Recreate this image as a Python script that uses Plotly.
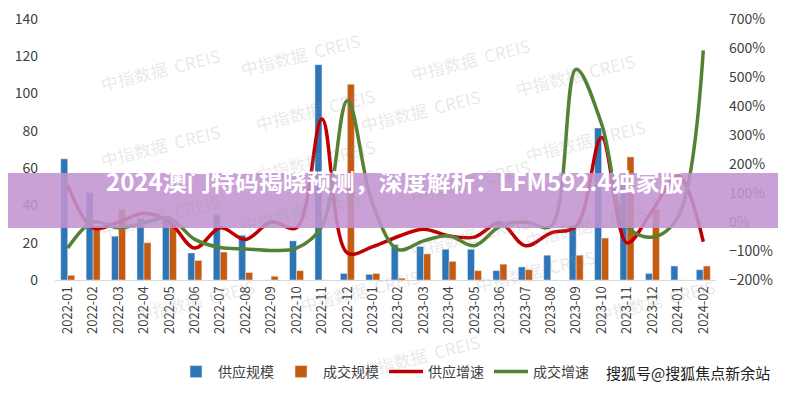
import plotly.graph_objects as go

# Monthly supply / transaction scale and growth
months = ["2022-01", "2022-02", "2022-03", "2022-04", "2022-05", "2022-06", "2022-07",
          "2022-08", "2022-09", "2022-10", "2022-11", "2022-12", "2023-01", "2023-02",
          "2023-03", "2023-04", "2023-05", "2023-06", "2023-07", "2023-08", "2023-09",
          "2023-10", "2023-11", "2023-12", "2024-01", "2024-02"]
supply = [65, 47, 23.5, 33, 34, 14.5, 35, 24, 0, 21, 115.5, 3.5, 3, 19,
          18, 16.5, 16.5, 5, 7, 13.3, 29, 81.5, 51.7, 3.5, 7.5, 5.5]
deals = [2.5, 29, 38, 20, 30, 10.5, 15, 4, 2, 5, 0, 105, 3.5, 1,
         14, 10, 5, 8.5, 5.5, 0, 13.3, 22.5, 66, 38, 0, 7.5]
supply_growth = [127, -20, 0, 30, 0, -90, -20, -60, 0, -20, 355, -107, -85, -50,
                 -25, -48, -52, -3, -82, -38, -15, 291, -72, 40, 160, -68]
deal_growth = [-90, 0, -20, -3, 13, -60, -88, -93, -98, -90, -15, 418, 60, -95,
               -65, -48, -82, -15, 0, -15, 527, 338, -15, -52, 18, 592]

font = "Noto Sans CJK SC"

# target plot area in page pixels: x 55..716, y 19..280
# (the page body adds ~8px, so margins are shifted back by that)
PX0, PX1, PY0, PY1 = 55, 716, 19, 280
OFF = 8

def px(pix):
    return (pix - PX0) / (PX1 - PX0)

def py(pix):
    return (PY1 - pix) / (PY1 - PY0)

fig = go.Figure()
fig.add_trace(go.Bar(x=months, y=supply, name="供应规模", marker_color="#2E75B6"))
fig.add_trace(go.Bar(x=months, y=deals, name="成交规模", marker_color="#C55A11"))
fig.add_trace(go.Scatter(x=months, y=supply_growth, name="供应增速", yaxis="y2",
                         mode="lines", line=dict(color="#C00000", width=3.5,
                                                 shape="spline", smoothing=1.0)))
fig.add_trace(go.Scatter(x=months, y=deal_growth, name="成交增速", yaxis="y2",
                         mode="lines", line=dict(color="#548235", width=3.5,
                                                 shape="spline", smoothing=1.0)))

# faint watermarks (pixel centres)
marks = [(95, 40), (300, 25), (470, 30), (640, 45), (250, 80), (95, 145), (420, 110),
         (650, 140), (250, 160), (470, 180), (95, 245), (300, 240), (470, 265),
         (650, 255), (130, 330), (360, 320), (600, 300), (720, 330), (420, 385)]
annotations = []
for mx, my in marks:
    annotations.append(dict(x=px(mx), y=py(my), xref="paper", yref="paper",
                            text="中指数据  CREIS", showarrow=False, textangle=-14,
                            font=dict(family=font, size=17, color="rgba(150,150,150,0.22)")))

# banner
fig.add_shape(type="rect", xref="paper", yref="paper", x0=px(-20), x1=px(810),
              y0=py(228), y1=py(173), fillcolor="rgba(193,148,208,0.88)",
              line_width=0, layer="above")
annotations.append(dict(x=px(394), y=py(200), xref="paper", yref="paper",
                        text="<b>2024澳门特码揭晓预测，深度解析：LFM592.4独家版</b>",
                        showarrow=False, font=dict(family=font, size=24, color="white")))
annotations.append(dict(x=px(772), y=py(385), xref="paper", yref="paper",
                        xanchor="right", text="搜狐号@搜狐焦点新余站", showarrow=False,
                        font=dict(family=font, size=15, color="#222222")))

fig.update_layout(
    width=786, height=400,
    margin=dict(l=PX0 - OFF, r=786 - PX1 + OFF, t=PY0 - OFF, b=400 - PY1 + OFF),
    paper_bgcolor="white", plot_bgcolor="white",
    font=dict(family=font, size=12, color="#404040"),
    barmode="group", bargap=0.45, bargroupgap=0.0,
    xaxis=dict(type="category", tickangle=-90, showline=True, linecolor="#D9D9D9",
               ticks="", automargin=False, tickfont=dict(size=13, color="#404040")),
    yaxis=dict(range=[0, 140], dtick=20, showgrid=False, zeroline=False,
               automargin=False, ticklabelstandoff=16, ticklabeloverflow="allow",
               tickfont=dict(size=14, color="#404040")),
    yaxis2=dict(range=[-200, 700], dtick=100, overlaying="y", side="right",
                showgrid=False, zeroline=False, ticksuffix="%", automargin=False,
                ticklabelstandoff=12, ticklabeloverflow="allow",
                tickfont=dict(size=14, color="#404040")),
    legend=dict(orientation="h", x=px(384), xanchor="center", y=py(372),
                yanchor="middle", font=dict(size=14, color="#404040"), itemwidth=34),
    annotations=annotations,
)

fig.write_html("out.html")
